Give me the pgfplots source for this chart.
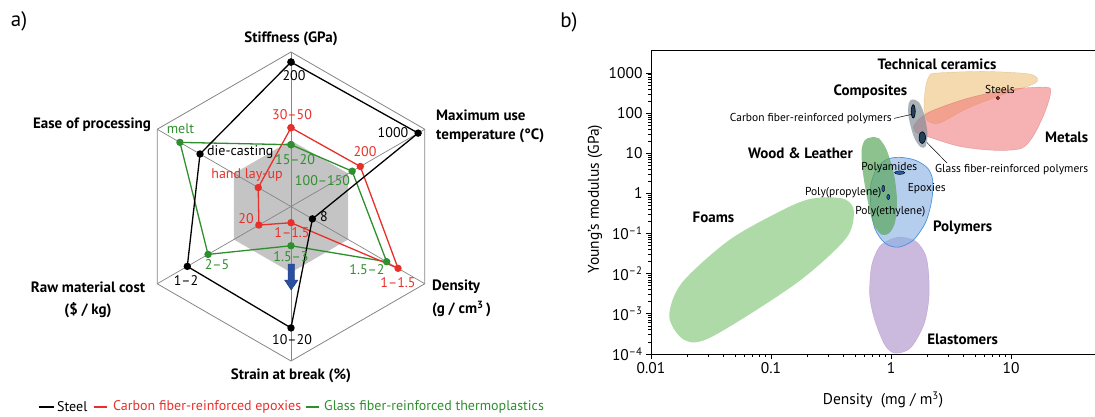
\documentclass[border=0pt]{standalone}
\usepackage{pgfplots}
\pgfplotsset{compat=1.18}
\usepackage{fontspec}
\setmainfont{PT Sans}
\definecolor{cred}{HTML}{E8302A}
\definecolor{cgreen}{HTML}{2F8F2F}
\definecolor{hexgrey}{HTML}{C4C4C4}
\definecolor{spokec}{HTML}{858585}
\definecolor{arrowblue}{HTML}{2B4FA0}
\definecolor{ceramic}{HTML}{F0C27A}
\definecolor{metal}{HTML}{EE7272}
\definecolor{compo}{HTML}{7C8894}
\definecolor{wood}{HTML}{5CA75C}
\definecolor{polym}{HTML}{86AEE3}
\definecolor{polyedge}{HTML}{4B90D8}
\definecolor{elast}{HTML}{A98BC8}
\definecolor{foam}{HTML}{8CCB82}
\definecolor{blobdark}{HTML}{24405A}
\definecolor{blobblue}{HTML}{1F5FA8}
\definecolor{steeldot}{HTML}{B01E1E}
\newcommand{\fs}[1]{\fontsize{#1}{#1}\selectfont}
\begin{document}
\begin{tikzpicture}
\useasboundingbox (0pt,0pt) rectangle (1095pt,-416pt);
% ---------------- panel a: radar ----------------
\begin{axis}[at={(136.5pt,-361pt)}, anchor=south west, x=154.5pt, y=154.5pt,
  xmin=-1, xmax=1, ymin=-1, ymax=1, hide axis, clip=false]
\addplot[fill=hexgrey, draw=none, data cs=polar] coordinates {(90,0.427) (30,0.427) (-30,0.427) (-90,0.427) (210,0.427) (150,0.427) (90,0.427)};
\addplot[spokec, line width=0.7pt, data cs=polar] coordinates {(90,1) (-90,1)};
\addplot[spokec, line width=0.7pt, data cs=polar] coordinates {(30,1) (210,1)};
\addplot[spokec, line width=0.7pt, data cs=polar] coordinates {(150,1) (-30,1)};
\addplot[spokec, line width=0.8pt, data cs=polar] coordinates {(90,1) (30,1) (-30,1) (-90,1) (210,1) (150,1) (90,1)};
% Glass fiber-reinforced thermoplastics
\addplot[cgreen, line width=1.3pt, mark=*, mark size=3pt, data cs=polar] coordinates {(90,0.40) (30,0.457) (-30,0.715) (-90,0.254) (210,0.62) (150,0.83) (90,0.40)};
% Carbon fiber-reinforced epoxies
\addplot[cred, line width=1.3pt, mark=*, mark size=3pt, data cs=polar] coordinates {(90,0.51) (30,0.518) (-30,0.80) (-90,0.105) (210,0.24) (150,0.245) (90,0.51)};
% Steel
\addplot[black, line width=1.3pt, mark=*, mark size=3pt, data cs=polar] coordinates {(90,0.935) (30,0.95) (-30,0.16) (-90,0.786) (210,0.775) (150,0.68) (90,0.935)};
\end{axis}
% ---------------- panel b: Ashby plot ----------------
\begin{axis}[at={(651pt,-354pt)}, anchor=south west, scale only axis,
  width=449pt, height=303.3pt, xmode=log, ymode=log,
  xmin=0.01, xmax=55, ymin=1e-4, ymax=3600,
  axis lines*=left,
  xtick={0.01,0.1,1,10}, xticklabels={0.01,0.1,1,10},
  ytick={1e-4,1e-3,1e-2,1e-1,1,10,100,1000},
  yticklabels={10\textsuperscript{–4},10\textsuperscript{–3},10\textsuperscript{–2},10\textsuperscript{–1},1,10,100,1000},
  tick align=outside, major tick length=5pt, minor tick length=3pt,
  axis line style={line width=1pt}, tick style={line width=0.8pt, black},
  ticklabel style={font=\fs{15.5}}]
% Foams
\addplot[smooth cycle, fill=foam, fill opacity=0.7, draw=none] coordinates {(0.30,0.80) (0.42,0.70) (0.49,0.36) (0.42,0.075) (0.163,0.00583) (0.0322,2.69e-4) (0.0190,2.23e-4) (0.0142,8.47e-4) (0.0180,0.00583) (0.0447,0.0686) (0.119,0.36) (0.20,0.70)};
% Elastomers
\addplot[smooth cycle, fill=elast, fill opacity=0.6, draw=elast, draw opacity=0.6] coordinates {(1.15,0.0813) (1.60,0.0647) (1.94,0.0290) (2.06,0.00923) (2.06,0.0022) (1.87,5.26e-4) (1.45,1.41e-4) (1.08,1.05e-4) (0.889,1.67e-4) (0.731,7.0e-4) (0.664,0.00294) (0.690,0.0164) (0.822,0.0514)};
% Polymers
\addplot[smooth cycle, fill=polym, fill opacity=0.6, draw=polyedge, line width=0.7pt] coordinates {(1.19,7.94) (1.60,6.69) (2.02,4.24) (2.22,2.13) (2.18,0.678) (1.94,0.192) (1.53,0.0686) (1.15,0.0459) (0.889,0.0577) (0.731,0.136) (0.678,0.508) (0.678,1.60) (0.761,4.24) (0.925,7.10)};
% Wood & Leather
\addplot[smooth cycle, fill=wood, fill opacity=0.7, draw=none] coordinates {(0.678,25.0) (0.791,23.6) (0.921,11.9) (1.06,2.84) (1.12,0.678) (1.08,0.192) (0.962,0.102) (0.822,0.0966) (0.703,0.192) (0.626,0.90) (0.579,3.78) (0.568,11.9) (0.603,21.0)};
% Technical ceramics
\addplot[smooth cycle, fill=ceramic, fill opacity=0.6, draw=ceramic!85!black, draw opacity=0.5] coordinates {(2.36,995) (5.87,1096) (13.7,961) (16.6,721) (15.1,520) (8.1,277) (4.24,129) (2.52,56.8) (2.01,66.2) (1.88,142) (1.94,446) (2.07,822)};
% Metals
\addplot[smooth cycle, fill=metal, fill opacity=0.55, draw=metal!85!black, draw opacity=0.5] coordinates {(1.57,52.6) (2.07,106) (4.24,230) (9.25,384) (19.5,446) (21.3,316) (18.9,97.3) (15.1,25.4) (12.0,13.1) (7.13,11.9) (3.72,14.9) (2.07,25.4) (1.60,33.9)};
% Composites
\addplot[smooth cycle, fill=compo, fill opacity=0.65, draw=none] coordinates {(1.50,220) (1.70,189) (1.88,97.3) (2.01,30.9) (1.94,14.9) (1.76,14.4) (1.55,25.4) (1.40,80) (1.40,172)};
% CFRP and GFRP
\addplot[smooth cycle, fill=blobdark, draw=black, line width=0.6pt] coordinates {(1.53,163) (1.57,146) (1.59,111) (1.57,84.5) (1.53,75.6) (1.49,84.5) (1.47,111) (1.49,146)};
\addplot[smooth cycle, fill=blobdark, draw=black, line width=0.6pt] coordinates {(1.82,34.4) (1.90,31.1) (1.94,24.6) (1.90,19.5) (1.82,17.6) (1.74,19.5) (1.71,24.6) (1.74,31.1)};
% small polymer blobs
\addplot[only marks, mark=*, mark size=2pt, mark options={fill=blobblue, draw=black, line width=0.4pt, xscale=2.6, yscale=0.9}] coordinates {(1.18,3.3)};
\addplot[only marks, mark=*, mark size=2pt, mark options={fill=blobblue, draw=black, line width=0.4pt, xscale=0.75, yscale=1.6}] coordinates {(0.861,1.33)};
\addplot[only marks, mark=*, mark size=2pt, mark options={fill=blobblue, draw=black, line width=0.4pt, xscale=0.75, yscale=1.3}] coordinates {(0.948,0.818)};
% Steels
\addplot[only marks, mark=*, mark size=1.8pt, mark options={fill=steeldot, draw=black, line width=0.3pt}] coordinates {(7.76,238)};
% top frame line
\draw[line width=1pt] (rel axis cs:0,1) -- (rel axis cs:1,1);
\end{axis}
% ---------------- text ----------------
\begin{scope}[x=1pt, y=-1pt, every node/.style={inner sep=0pt}]
\node[font=\fs{21}] at (19,21) {a)};
\node[font=\bfseries\fs{15}] at (291,39) {Stiffness (GPa)};
\node[font=\bfseries\fs{15}, anchor=west] at (436,115) {Maximum use};
\node[font=\bfseries\fs{15}, anchor=west] at (436,136) {temperature (°C)};
\node[font=\bfseries\fs{15}, anchor=east] at (151,125) {Ease of processing};
\node[font=\bfseries\fs{15}] at (88,287) {Raw material cost};
\node[font=\bfseries\fs{15}] at (88,310) {(\$ / kg)};
\node[font=\bfseries\fs{15}, anchor=west] at (432,287) {Density};
\node[font=\bfseries\fs{15}, anchor=west] at (432,309) {(g / cm\textsuperscript{3}\,)};
\node[font=\bfseries\fs{15}] at (291,376) {Strain at break (\%)};
% value labels steel
\node[font=\fs{14}] at (294,76) {200};
\node[font=\fs{14}] at (393,133) {1000};
\node[font=\fs{14}] at (324,217) {8};
\node[font=\fs{14}] at (292,340) {10–20};
\node[font=\fs{14}] at (186,281) {1–2};
\node[font=\fs{14}, anchor=west] at (207,152) {die-casting};
% value labels red
\node[font=\fs{14}, text=cred] at (292,115) {30–50};
\node[font=\fs{14}, text=cred] at (365,152) {200};
\node[font=\fs{14}, text=cred] at (398,283) {1–1.5};
\node[font=\fs{14}, text=cred] at (292,233) {1–1.5};
\node[font=\fs{14}, text=cred] at (246,219) {20};
\node[font=\fs{14}, text=cred] at (247,175) {hand lay-up};
% value labels green
\node[font=\fs{14}, text=cgreen] at (180.5,129) {melt};
\node[font=\fs{14}, text=cgreen] at (295,160) {15–20};
\node[font=\fs{14}, text=cgreen] at (322.5,181) {100–150};
\node[font=\fs{14}, text=cgreen] at (367,270) {1.5–2};
\node[font=\fs{14}, text=cgreen] at (217,265) {2–5};
\node[font=\fs{14}, text=cgreen] at (291,257) {1.5–3};
% blue arrow
\filldraw[fill=arrowblue, draw=arrowblue!70!black, line width=0.4pt] (288,264) -- (294.5,264) -- (294.5,280) -- (298,280) -- (291.2,290) -- (284.5,280) -- (288,280) -- cycle;
% legend
\draw[black, line width=1.3pt] (39,407) -- (54,407);
\node[anchor=west, font=\fs{14}] at (57,407) {Steel};
\draw[cred, line width=1.3pt] (94,407) -- (107,407);
\node[anchor=west, font=\fs{14}, text=cred] at (113,407) {Carbon fiber-reinforced epoxies};
\draw[cgreen, line width=1.3pt] (306,407) -- (319,407);
\node[anchor=west, font=\fs{14}, text=cgreen] at (324,407) {Glass fiber-reinforced thermoplastics};
% panel b labels
\node[font=\fs{21}] at (569,22) {b)};
\node[font=\bfseries\fs{15}] at (937,64) {Technical ceramics};
\node[font=\bfseries\fs{15}] at (870.5,92) {Composites};
\node[font=\bfseries\fs{15}] at (1066.7,137) {Metals};
\node[font=\bfseries\fs{15}] at (800.5,153.5) {Wood \& Leather};
\node[font=\bfseries\fs{15}] at (713.5,217) {Foams};
\node[font=\bfseries\fs{15}] at (962.6,227.3) {Polymers};
\node[font=\bfseries\fs{15}] at (962.6,339) {Elastomers};
\node[font=\fs{11.5}] at (1000,89.7) {Steels};
\node[font=\fs{11.5}, anchor=east] at (892,118.4) {Carbon fiber-reinforced polymers};
\node[font=\fs{11.5}, anchor=west] at (935,169.6) {Glass fiber-reinforced polymers};
\node[font=\fs{11.5}] at (889.3,167.2) {Polyamides};
\node[font=\fs{11.5}] at (926.8,188.7) {Epoxies};
\node[font=\fs{11.5}] at (843.2,192.8) {Poly(propylene)};
\node[font=\fs{11.5}] at (890.3,211.5) {Poly(ethylene)};
\draw[black, line width=0.5pt] (894,118.4) -- (911,114.5);
\draw[black, line width=0.5pt] (927,142.6) -- (947,163);
\node[font=\fs{15.5}, rotate=90] at (595,199) {Young’s modulus (GPa)};
\node[font=\fs{15.5}] at (883,400) {Density\ \ (mg / m\textsuperscript{3})};
\end{scope}
\end{tikzpicture}
\end{document}
